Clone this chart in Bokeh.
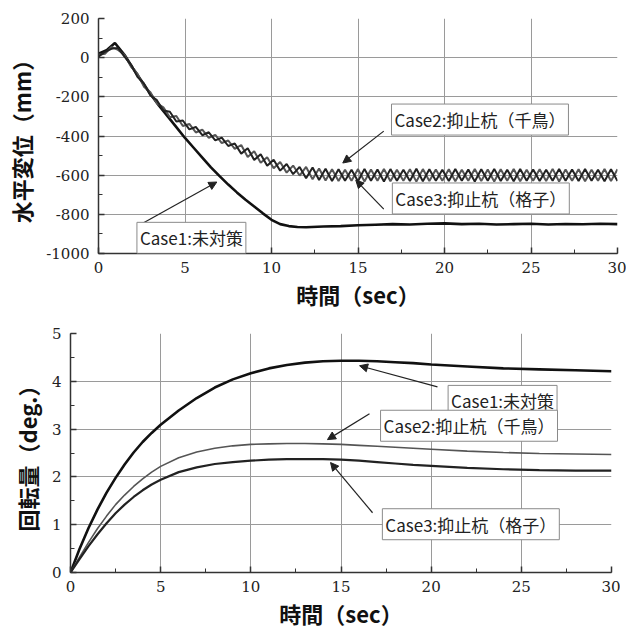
from bokeh.plotting import figure
from bokeh.layouts import column, row
from bokeh.models import (Range1d, SingleIntervalTicker, FixedTicker, Label, Arrow, NormalHead,
                          PrintfTickFormatter)
from bokeh.embed import file_html
from bokeh.resources import INLINE

# ---------------- top chart data: horizontal displacement (mm) ----------------
t1_case1 = [0, 0.5, 0.95, 1.5, 2, 2.5, 3, 3.5, 4, 4.5, 5, 5.5, 6, 6.5, 7, 7.5, 8, 8.5, 9,
            9.5, 10, 10.5, 11, 11.5, 12, 13, 14, 15, 16, 17, 18, 19, 20, 21, 22, 23, 24,
            25, 26, 27, 28, 29, 30]
disp_case1 = [20, 40, 75, 15, -55, -120, -185, -245, -300, -355, -410, -460, -510, -560,
              -605, -648, -688, -726, -760, -795, -828, -850, -860, -865, -866, -862, -860,
              -856, -853, -850, -852, -848, -846, -850, -848, -852, -850, -848, -852, -849,
              -851, -848, -850]

t1_case23 = [0, 0.375, 0.75, 1.125, 1.5, 1.875, 2.25, 2.625, 3.0, 3.375, 3.75, 4.125, 4.5,
             4.875, 5.25, 5.625, 6.0, 6.375, 6.75, 7.125, 7.5, 7.875, 8.25, 8.625, 9.0,
             9.375, 9.75, 10.125, 10.5, 10.875, 11.25, 11.625, 12.0, 12.375, 12.75, 13.125,
             13.5, 13.875, 14.25, 14.625, 15.0, 15.375, 15.75, 16.125, 16.5, 16.875, 17.25,
             17.625, 18.0, 18.375, 18.75, 19.125, 19.5, 19.875, 20.25, 20.625, 21.0, 21.375,
             21.75, 22.125, 22.5, 22.875, 23.25, 23.625, 24.0, 24.375, 24.75, 25.125, 25.5,
             25.875, 26.25, 26.625, 27.0, 27.375, 27.75, 28.125, 28.5, 28.875, 29.25, 29.625,
             30.0]
disp_case2 = [15, 20, 55, 40, 15, -45, -82, -148, -177, -233, -254, -304, -298, -349, -338,
              -382, -368, -409, -394, -436, -423, -466, -446, -507, -478, -537, -508, -565,
              -533, -587, -551, -602, -558, -621, -566, -627, -570, -630, -572, -628, -569,
              -632, -571, -629, -568, -631, -572, -628, -570, -633, -569, -630, -571, -628,
              -570, -631, -572, -629, -568, -630, -571, -632, -570, -628, -569, -631, -572,
              -629, -570, -630, -568, -632, -571, -629, -570, -631, -572, -628, -569, -630,
              -570]
disp_case3 = [5, 30, 45, 50, 5, -35, -98, -132, -193, -217, -270, -276, -326, -321, -366,
              -354, -396, -381, -422, -408, -451, -438, -490, -463, -522, -493, -552, -521,
              -577, -543, -595, -558, -616, -561, -625, -567, -630, -570, -628, -572, -631,
              -568, -629, -571, -632, -569, -628, -572, -630, -567, -631, -570, -629, -572,
              -630, -569, -628, -571, -632, -570, -629, -568, -630, -572, -631, -569, -628,
              -571, -630, -572, -628, -569, -629, -571, -630, -569, -628, -572, -631, -570,
              -630]

# ---------------- bottom chart data: rotation (deg.) ----------------
t2 = [0, 0.5, 1, 1.5, 2, 2.5, 3, 3.5, 4, 4.5, 5, 6, 7, 8, 9, 10, 11, 12, 13, 14, 15, 16,
      17, 18, 19, 20, 22, 24, 26, 28, 30]
rot_case1 = [0, 0.49, 0.93, 1.32, 1.67, 1.98, 2.26, 2.51, 2.73, 2.92, 3.09, 3.39, 3.65,
             3.87, 4.04, 4.17, 4.27, 4.34, 4.39, 4.42, 4.43, 4.43, 4.42, 4.4, 4.38, 4.35,
             4.31, 4.27, 4.25, 4.23, 4.21]
rot_case2 = [0, 0.32, 0.63, 0.92, 1.18, 1.42, 1.62, 1.8, 1.96, 2.1, 2.22, 2.4, 2.52, 2.6,
             2.65, 2.68, 2.69, 2.70, 2.70, 2.69, 2.68, 2.66, 2.64, 2.62, 2.60, 2.58, 2.54,
             2.51, 2.49, 2.48, 2.47]
rot_case3 = [0, 0.28, 0.55, 0.8, 1.03, 1.24, 1.42, 1.58, 1.72, 1.84, 1.94, 2.1, 2.2, 2.27,
             2.31, 2.34, 2.36, 2.37, 2.37, 2.37, 2.36, 2.34, 2.31, 2.28, 2.25, 2.23, 2.19,
             2.16, 2.14, 2.13, 2.13]

case_names = ["Case1:未対策", "Case2:抑止杭（千鳥）", "Case3:抑止杭（格子）"]
x_label = "時間（sec）"
y_label_top = "水平変位（mm）"
y_label_bottom = "回転量（deg.）"

# annotation placement (label centre, arrow start, arrow end) in data units
top_notes = [((5.37, -920), (2.27, -860), (6.84, -635)),
             ((22.05, -316), (16.49, -375), (14.12, -538)),
             ((22.1, -719), (16.49, -773), (14.87, -625))]
bottom_notes = [((23.96, 3.59), (20.35, 3.885), (16.03, 4.325)),
                ((22.1, 3.07), (16.58, 3.32), (14.25, 2.78)),
                ((22.2, 1.01), (16.75, 1.25), (14.42, 2.30))]

CJK = "Noto Sans CJK JP"
SERIF = "DejaVu Serif"


def style(p, y_interval):
    p.outline_line_color = None
    p.background_fill_color = "white"
    p.border_fill_color = "white"
    for ax in (p.xaxis[0], p.yaxis[0]):
        ax.axis_line_color = "#333333"
        ax.axis_line_width = 1.5
        ax.major_tick_line_color = "#333333"
        ax.minor_tick_line_color = "#333333"
        ax.major_tick_line_width = 1.5
        ax.major_tick_in = 6
        ax.major_tick_out = 0
        ax.minor_tick_in = 4
        ax.minor_tick_out = 0
        ax.major_label_text_font = SERIF
        ax.major_label_text_font_size = "15px"
        ax.major_label_text_color = "#222222"
        ax.axis_label_text_font = CJK
        ax.axis_label_text_font_style = "bold"
        ax.axis_label_text_font_size = "22px"
        ax.axis_label_text_color = "#111111"
        ax.formatter = PrintfTickFormatter(format="%d")
    p.xaxis[0].ticker = SingleIntervalTicker(interval=5, num_minor_ticks=2)
    p.yaxis[0].ticker = SingleIntervalTicker(interval=y_interval, num_minor_ticks=2)
    p.xaxis[0].major_label_standoff = 8
    p.xaxis[0].axis_label_standoff = 2
    p.yaxis[0].major_label_standoff = 9
    p.yaxis[0].axis_label_standoff = 6
    p.xgrid.ticker = FixedTicker(ticks=[5, 10, 15, 20, 25])
    p.xgrid.grid_line_color = "#9a9a9a"
    p.ygrid.grid_line_color = "#9a9a9a"
    p.xgrid.grid_line_width = 1
    p.ygrid.grid_line_width = 1


def annotate(p, notes):
    for name, (centre, start, end) in zip(case_names, notes):
        p.add_layout(Arrow(x_start=start[0], y_start=start[1], x_end=end[0], y_end=end[1],
                           line_color="#222222", line_width=1.2,
                           end=NormalHead(size=8, fill_color="#222222", line_color="#222222")))
        p.add_layout(Label(x=centre[0], y=centre[1], text=name, text_font=CJK,
                           text_font_size="17px", text_color="#222222",
                           text_align="center", text_baseline="middle",
                           border_line_color="#8a8a8a", border_line_width=1,
                           background_fill_color="white", padding=3))


# ---------------- top figure ----------------
p1 = figure(width=626, height=313, output_backend="svg", toolbar_location=None,
            x_range=Range1d(0, 30), y_range=Range1d(-1000, 200),
            x_axis_label=x_label, y_axis_label=y_label_top,
            min_border_left=98, min_border_right=9, min_border_top=18, min_border_bottom=60)
style(p1, 200)
p1.ygrid.ticker = FixedTicker(ticks=[-800, -600, -400, -200, 0])
p1.line(t1_case1, disp_case1, line_color="#111111", line_width=2.6)
p1.line(t1_case23, disp_case2, line_color="#555555", line_width=2)
p1.line(t1_case23, disp_case3, line_color="#222222", line_width=2)
annotate(p1, top_notes)

# ---------------- bottom figure ----------------
p2 = figure(width=620, height=319, output_backend="svg", toolbar_location=None,
            x_range=Range1d(0, 30), y_range=Range1d(0, 5),
            x_axis_label=x_label, y_axis_label=y_label_bottom,
            min_border_left=70, min_border_right=9, min_border_top=20, min_border_bottom=60)
style(p2, 1)
p2.ygrid.ticker = FixedTicker(ticks=[1, 2, 3, 4])
p2.line(t2, rot_case1, line_color="#111111", line_width=2.6)
p2.line(t2, rot_case2, line_color="#555555", line_width=1.6)
p2.line(t2, rot_case3, line_color="#222222", line_width=2.2)
annotate(p2, bottom_notes)

layout = column(row(p1), row(p2), spacing=0)
open("out.html", "w").write(file_html(layout, INLINE))
